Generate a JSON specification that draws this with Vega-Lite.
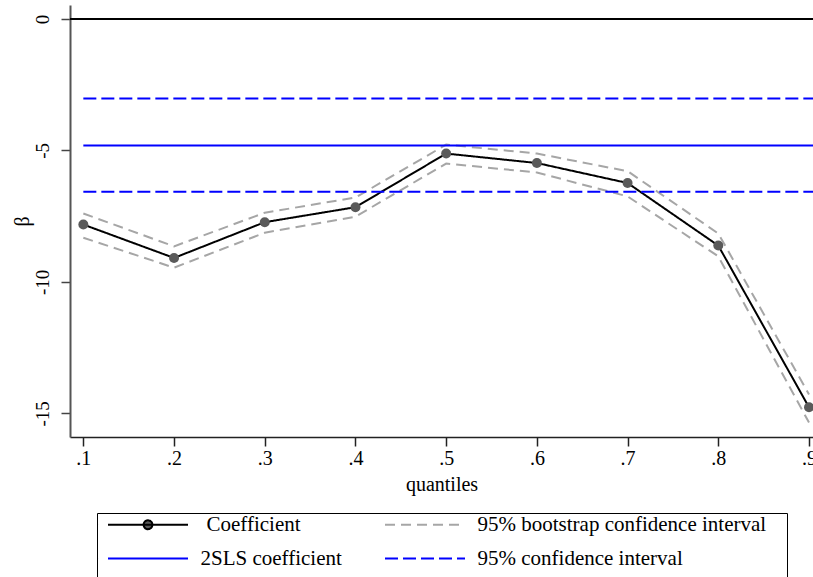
{
  "$schema": "https://vega.github.io/schema/vega-lite/v6.json",
  "width": 743,
  "height": 432,
  "autosize": {"type": "none"},
  "padding": {"left": 70, "top": 5, "right": 0, "bottom": 140},
  "background": "white",
  "config": {"view": {"stroke": null}, "font": "Liberation Serif"},
  "datasets": {
    "lines": [
      {"q": 0.1, "value": -7.82, "series": "Coefficient", "part": "coef"},
      {"q": 0.2, "value": -9.09, "series": "Coefficient", "part": "coef"},
      {"q": 0.3, "value": -7.73, "series": "Coefficient", "part": "coef"},
      {"q": 0.4, "value": -7.16, "series": "Coefficient", "part": "coef"},
      {"q": 0.5, "value": -5.12, "series": "Coefficient", "part": "coef"},
      {"q": 0.6, "value": -5.48, "series": "Coefficient", "part": "coef"},
      {"q": 0.7, "value": -6.24, "series": "Coefficient", "part": "coef"},
      {"q": 0.8, "value": -8.62, "series": "Coefficient", "part": "coef"},
      {"q": 0.9, "value": -14.77, "series": "Coefficient", "part": "coef"},
      {"q": 0.1, "value": -7.40, "series": "95% bootstrap confidence interval", "part": "upper"},
      {"q": 0.2, "value": -8.65, "series": "95% bootstrap confidence interval", "part": "upper"},
      {"q": 0.3, "value": -7.37, "series": "95% bootstrap confidence interval", "part": "upper"},
      {"q": 0.4, "value": -6.79, "series": "95% bootstrap confidence interval", "part": "upper"},
      {"q": 0.5, "value": -4.78, "series": "95% bootstrap confidence interval", "part": "upper"},
      {"q": 0.6, "value": -5.12, "series": "95% bootstrap confidence interval", "part": "upper"},
      {"q": 0.7, "value": -5.79, "series": "95% bootstrap confidence interval", "part": "upper"},
      {"q": 0.8, "value": -8.16, "series": "95% bootstrap confidence interval", "part": "upper"},
      {"q": 0.9, "value": -14.28, "series": "95% bootstrap confidence interval", "part": "upper"},
      {"q": 0.1, "value": -8.32, "series": "95% bootstrap confidence interval", "part": "lower"},
      {"q": 0.2, "value": -9.46, "series": "95% bootstrap confidence interval", "part": "lower"},
      {"q": 0.3, "value": -8.13, "series": "95% bootstrap confidence interval", "part": "lower"},
      {"q": 0.4, "value": -7.52, "series": "95% bootstrap confidence interval", "part": "lower"},
      {"q": 0.5, "value": -5.50, "series": "95% bootstrap confidence interval", "part": "lower"},
      {"q": 0.6, "value": -5.84, "series": "95% bootstrap confidence interval", "part": "lower"},
      {"q": 0.7, "value": -6.75, "series": "95% bootstrap confidence interval", "part": "lower"},
      {"q": 0.8, "value": -9.03, "series": "95% bootstrap confidence interval", "part": "lower"},
      {"q": 0.9, "value": -15.35, "series": "95% bootstrap confidence interval", "part": "lower"},
      {"q": 0.1, "value": -4.81, "series": "2SLS coefficient", "part": "tsls"},
      {"q": 0.9044, "value": -4.81, "series": "2SLS coefficient", "part": "tsls"},
      {"q": 0.1, "value": -3.03, "series": "95% confidence interval", "part": "ciupper"},
      {"q": 0.9044, "value": -3.03, "series": "95% confidence interval", "part": "ciupper"},
      {"q": 0.1, "value": -6.57, "series": "95% confidence interval", "part": "cilower"},
      {"q": 0.9044, "value": -6.57, "series": "95% confidence interval", "part": "cilower"}
    ]
  },
  "data": {"name": "lines"},
  "encoding": {
    "x": {
      "field": "q",
      "type": "quantitative",
      "scale": {"domain": [0.0853, 0.9044], "nice": false, "zero": false},
      "axis": {
        "values": [0.1, 0.2, 0.3, 0.4, 0.5, 0.6, 0.7, 0.8, 0.9],
        "labelExpr": "replace(format(datum.value, '.1f'), '0.', '.')",
        "title": "quantiles",
        "grid": false,
        "labelFont": "Liberation Serif",
        "labelFontSize": 20,
        "labelColor": "black",
        "labelPadding": 2,
        "labelFlush": false,
        "labelOverlap": false,
        "tickSize": 9,
        "tickWidth": 1.5,
        "tickColor": "#222222",
        "domainColor": "#222222",
        "domainWidth": 1.5,
        "titleFont": "Liberation Serif",
        "titleFontSize": 20,
        "titleFontWeight": "normal",
        "titleColor": "black",
        "titlePadding": 6
      }
    },
    "y": {
      "field": "value",
      "type": "quantitative",
      "scale": {"domain": [-15.9, 0.53], "nice": false, "zero": false},
      "axis": {
        "values": [0, -5, -10, -15],
        "labelExpr": "datum.value + ''",
        "title": "β",
        "grid": false,
        "labelAngle": -90,
        "labelAlign": "center",
        "labelBaseline": "bottom",
        "labelFont": "Liberation Serif",
        "labelFontSize": 19,
        "labelColor": "black",
        "labelPadding": 9,
        "labelOverlap": false,
        "tickSize": 9,
        "tickWidth": 1.5,
        "tickColor": "#444444",
        "domainColor": "#555555",
        "domainWidth": 2,
        "titleFont": "Liberation Serif",
        "titleFontSize": 20,
        "titleFontWeight": "normal",
        "titleColor": "black",
        "titlePadding": 1
      }
    }
  },
  "layer": [
    {
      "mark": {"type": "rule", "color": "black", "strokeWidth": 1.5},
      "encoding": {"y": {"datum": 0}, "x": null}
    },
    {
      "mark": {"type": "line", "strokeWidth": 2, "clip": true},
      "encoding": {
        "detail": {"field": "part", "type": "nominal"},
        "color": {
          "field": "series",
          "type": "nominal",
          "scale": {
            "domain": ["Coefficient", "2SLS coefficient", "95% bootstrap confidence interval", "95% confidence interval"],
            "range": ["#000000", "#0000ff", "#a6a6a6", "#0000ff"]
          },
          "legend": {
            "title": null,
            "orient": "none",
            "legendX": 27,
            "legendY": 508,
            "columns": 2,
            "padding": 1,
            "strokeColor": "black",
            "fillColor": "white",
            "symbolType": "M-10,0H10",
            "symbolSize": 64,
            "symbolStrokeWidth": 2,
            "symbolOffset": 39.5,
            "labelOffset": 42,
            "labelFont": "Liberation Serif",
            "labelFontSize": 21,
            "labelColor": "black",
            "labelLimit": 0,
            "columnPadding": 33,
            "rowPadding": 12,
            "encode": {
              "symbols": {
                "update": {
                  "shape": {"signal": "datum.value === 'Coefficient' ? 'M-12.5,0L-12.49,0M-10,0H10M1.1,0A1.1,1.1,0,1,1,-1.1,0A1.1,1.1,0,1,1,1.1,0' : datum.value === '2SLS coefficient' ? 'M-12.5,0L-12.49,0M-10,0H10' : datum.value === '95% bootstrap confidence interval' ? 'M-10,0H10M89,0L89.01,0' : 'M-10,0H10M0,6L0.01,6'"},
                  "fill": {"signal": "datum.value === 'Coefficient' ? '#5a5a5a' : 'transparent'"}
                }
              },
              "labels": {
                "update": {
                  "dx": {"signal": "datum.value === 'Coefficient' ? 6 : 0"}
                }
              }
            }
          }
        },
        "strokeDash": {
          "field": "series",
          "type": "nominal",
          "scale": {
            "domain": ["Coefficient", "2SLS coefficient", "95% bootstrap confidence interval", "95% confidence interval"],
            "range": [[1, 0], [1, 0], [10, 6], [13, 5]]
          }
        }
      }
    },
    {
      "transform": [{"filter": "datum.part === 'coef'"}],
      "mark": {"type": "point", "filled": true, "fill": "#5a5a5a", "opacity": 1, "size": 100}
    }
  ]
}
